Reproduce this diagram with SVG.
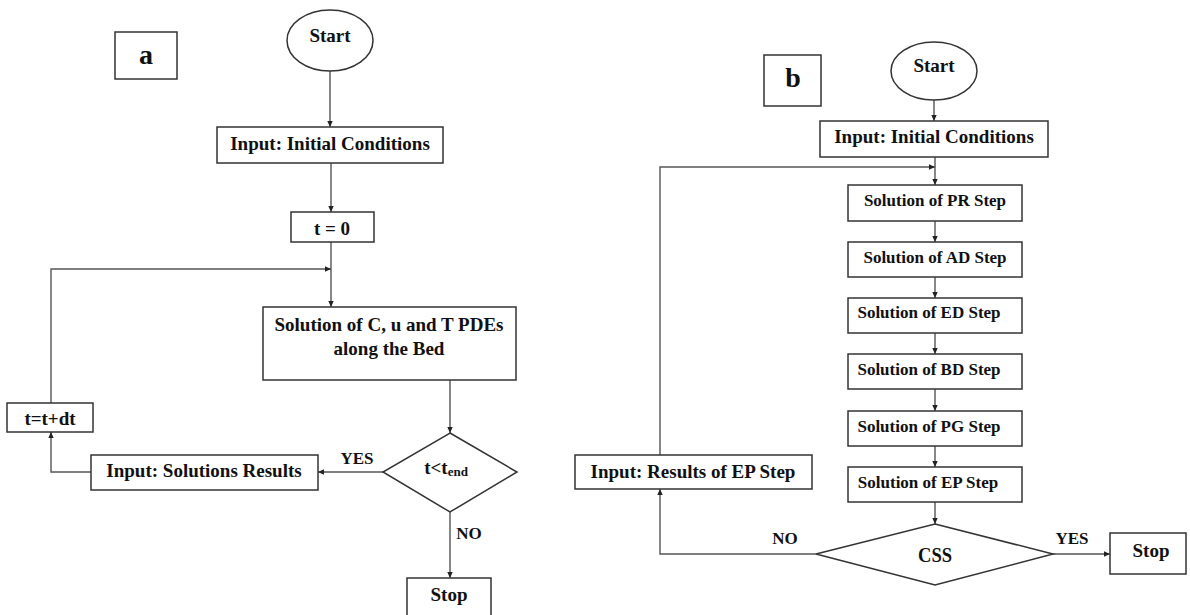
<svg xmlns="http://www.w3.org/2000/svg" width="1190" height="615" viewBox="0 0 1190 615">
<style>
.bx{fill:#fff;stroke:#333;stroke-width:1.5}
.ln{fill:none;stroke:#555;stroke-width:1.4}
.ar{marker-end:url(#ah)}
text{font-family:"Liberation Serif","Times New Roman",serif;font-weight:bold;fill:#111;text-anchor:middle}
.f19{font-size:19px}
.f17{font-size:17px}
.f28{font-size:28px}
</style>
<defs>
<marker id="ah" viewBox="0 0 10 10" refX="10" refY="5" markerWidth="6" markerHeight="6" orient="auto" markerUnits="userSpaceOnUse">
<path d="M0,0.5 L10,5 L0,9.5 z" fill="#222"/>
</marker>
</defs>
<rect width="1190" height="615" fill="#fff"/>

<g id="connectors">
<!-- a -->
<line class="ln ar" x1="330" y1="71" x2="330" y2="127"/>
<line class="ln ar" x1="331" y1="163" x2="331" y2="212"/>
<line class="ln ar" x1="331" y1="242" x2="331" y2="307"/>
<polyline class="ln ar" points="51,403 51,269 331,269"/>
<line class="ln ar" x1="450" y1="380" x2="450" y2="433"/>
<line class="ln ar" x1="383" y1="472" x2="318" y2="472"/>
<polyline class="ln ar" points="91,472 51,472 51,432"/>
<line class="ln ar" x1="450" y1="512" x2="450" y2="578"/>
<!-- b -->
<line class="ln ar" x1="934" y1="100" x2="934" y2="121"/>
<line class="ln ar" x1="935" y1="157" x2="935" y2="185"/>
<polyline class="ln ar" points="660,455 660,167 935,167"/>
<line class="ln ar" x1="935" y1="221" x2="935" y2="242"/>
<line class="ln ar" x1="935" y1="277" x2="935" y2="298"/>
<line class="ln ar" x1="935" y1="333" x2="935" y2="354"/>
<line class="ln ar" x1="935" y1="389" x2="935" y2="411"/>
<line class="ln ar" x1="935" y1="446" x2="935" y2="467"/>
<line class="ln ar" x1="935" y1="502" x2="935" y2="524"/>
<polyline class="ln ar" points="816,554 660,554 660,489"/>
<line class="ln ar" x1="1053" y1="554" x2="1110" y2="554"/>
<text class="f17" x="357" y="464">YES</text>
<text class="f17" x="469" y="539">NO</text>
<text class="f17" x="785" y="544">NO</text>
<text class="f17" x="1072" y="544">YES</text>
</g>

<g id="label-a"><rect class="bx" x="115" y="32" width="62" height="47"/><text class="f28" x="146" y="64">a</text></g>
<g id="start-a"><ellipse class="bx" cx="330" cy="40.5" rx="43" ry="30.5"/><text class="f19" x="330" y="42">Start</text></g>
<g id="input-a"><rect class="bx" x="217" y="127" width="226" height="36"/><text class="f19" x="330" y="150">Input: Initial Conditions</text></g>
<g id="t0"><rect class="bx" x="291" y="212" width="83" height="30"/><text class="f19" x="332" y="235">t = 0</text></g>
<g id="solution-a"><rect class="bx" x="263" y="307" width="253" height="73"/><text class="f19" x="389" y="331">Solution of C, u and T PDEs</text><text class="f19" x="389" y="355">along the Bed</text></g>
<g id="decision-a"><polygon class="bx" points="450,433 517,472 450,512 383,472"/><text class="f19" x="446" y="474">t&lt;t<tspan font-size="13" dy="2">end</tspan></text></g>
<g id="results-a"><rect class="bx" x="91" y="455" width="227" height="35"/><text class="f19" x="204" y="477">Input: Solutions Results</text></g>
<g id="tdt"><rect class="bx" x="7" y="403" width="86" height="29"/><text class="f19" x="50" y="425">t=t+dt</text></g>
<g id="stop-a"><rect class="bx" x="407" y="578" width="84" height="45"/><text class="f19" x="449" y="601">Stop</text></g>

<g id="label-b"><rect class="bx" x="764" y="55" width="57" height="51"/><text class="f28" x="793" y="87">b</text></g>
<g id="start-b"><ellipse class="bx" cx="934" cy="71" rx="43" ry="29"/><text class="f19" x="934" y="72">Start</text></g>
<g id="input-b"><rect class="bx" x="820" y="121" width="228" height="36"/><text class="f19" x="934" y="143">Input: Initial Conditions</text></g>
<g id="pr"><rect class="bx" x="848" y="185" width="174" height="36"/><text class="f17" x="935" y="206">Solution of PR Step</text></g>
<g id="ad"><rect class="bx" x="848" y="242" width="174" height="35"/><text class="f17" x="935" y="263">Solution of AD Step</text></g>
<g id="ed"><rect class="bx" x="848" y="298" width="174" height="35"/><text class="f17" x="929" y="318">Solution of ED Step</text></g>
<g id="bd"><rect class="bx" x="848" y="354" width="174" height="35"/><text class="f17" x="929" y="375">Solution of BD Step</text></g>
<g id="pg"><rect class="bx" x="848" y="411" width="174" height="35"/><text class="f17" x="929" y="432">Solution of PG Step</text></g>
<g id="ep"><rect class="bx" x="848" y="467" width="174" height="35"/><text class="f17" x="928" y="488">Solution of EP Step</text></g>
<g id="css"><polygon class="bx" points="935,524 1053,554 935,585 816,554"/><text x="935" y="562" font-size="21" textLength="34" lengthAdjust="spacingAndGlyphs">CSS</text></g>
<g id="results-b"><rect class="bx" x="575" y="455" width="237" height="34"/><text class="f19" x="693" y="478">Input: Results of EP Step</text></g>
<g id="stop-b"><rect class="bx" x="1110" y="533" width="76" height="41"/><text class="f19" x="1151" y="557">Stop</text></g>
</svg>
